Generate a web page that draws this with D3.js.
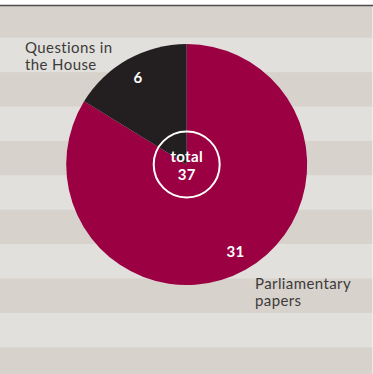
<!DOCTYPE html>
<html>
<head>
<meta charset="utf-8">
<script src="https://cdn.jsdelivr.net/npm/d3@7"></script>
<style>
  html, body { margin: 0; padding: 0; background: #fff; }
  svg { display: block; }
</style>
</head>
<body>
<div id="chart"></div>
<script>
/* data ------------------------------------------------------------------- */
var categories = ["Parliamentary papers", "Questions in the House"];
var labelLines = [["Parliamentary", "papers"], ["Questions in", "the House"]];
var values = [31, 6];
var sliceColors = ["#9b0042", "#231f20"];

/* dimensions ------------------------------------------------------------- */
var width = 373,
    height = 374,
    cx = 186.7,
    cy = 164.5,
    radius = 120.5;

var svg = d3.select("#chart")
  .append("svg")
    .attr("width", width)
    .attr("height", height);

// striped background
var stripeTop = 3.3, stripeH = 34.4;
for (var i = 0; stripeTop + i * stripeH < height; i++) {
  svg.append("rect")
    .attr("x", 0)
    .attr("y", stripeTop + i * stripeH)
    .attr("width", 372.5)
    .attr("height", stripeH + 0.5)
    .attr("fill", i % 2 === 0 ? "#d7d2cc" : "#e2e0dc");
}
// white strip above the top rule
svg.append("rect")
  .attr("x", 0).attr("y", 0)
  .attr("width", width).attr("height", 5)
  .attr("fill", "#ffffff");
svg.append("line")
  .attr("x1", 0).attr("x2", width)
  .attr("y1", 5.5).attr("y2", 5.5)
  .attr("stroke", "#4d4b4a")
  .attr("stroke-width", 1.5);

var g = svg.append("g")
  .attr("transform", "translate(" + cx + "," + cy + ")");

var color = d3.scaleOrdinal().domain(categories).range(sliceColors);

var pie = d3.pie().sort(null).value(function(d) { return d.value; });
var data_ready = pie(categories.map(function(c, i) { return {key: c, value: values[i]}; }));

var arcGenerator = d3.arc().innerRadius(0).outerRadius(radius);
var labelArc = d3.arc().innerRadius(100).outerRadius(100);

g.selectAll("path.slice")
  .data(data_ready)
  .enter()
  .append("path")
    .attr("class", "slice")
    .attr("d", arcGenerator)
    .attr("fill", function(d) { return color(d.data.key); });

// value labels inside slices
g.selectAll("text.val")
  .data(data_ready)
  .enter()
  .append("text")
    .attr("class", "val")
    .attr("transform", function(d) { return "translate(" + labelArc.centroid(d) + ")"; })
    .attr("dy", "0.36em")
    .attr("text-anchor", "middle")
    .style("font-family", "Lato, 'Noto Sans', sans-serif")
    .style("font-weight", "bold")
    .style("font-size", "15px")
    .style("letter-spacing", "0.3px")
    .attr("fill", "#ffffff")
    .text(function(d) { return d.data.value; });

// centre total
g.append("circle")
  .attr("r", 33)
  .attr("fill", "none")
  .attr("stroke", "#ffffff")
  .attr("stroke-width", 2);

var total = d3.sum(values);
g.append("text")
  .attr("y", -3)
  .attr("text-anchor", "middle")
  .style("font-family", "Lato, 'Noto Sans', sans-serif")
  .style("font-weight", "bold")
  .style("font-size", "15px")
  .style("letter-spacing", "0.3px")
  .attr("fill", "#ffffff")
  .text("total");
g.append("text")
  .attr("y", 15.5)
  .attr("text-anchor", "middle")
  .style("font-family", "Lato, 'Noto Sans', sans-serif")
  .style("font-weight", "bold")
  .style("font-size", "15px")
  .style("letter-spacing", "0.3px")
  .attr("fill", "#ffffff")
  .text(total);

// category labels outside the pie
var labelPos = [[255, 289], [25, 52.5]];
labelLines.forEach(function(lines, i) {
  var t = svg.append("text")
    .attr("x", labelPos[i][0])
    .attr("y", labelPos[i][1])
    .style("font-family", "Lato, 'Noto Sans', sans-serif")
    .style("font-size", "15px")
    .style("letter-spacing", "0.4px")
    .attr("fill", "#3d3b3a");
  lines.forEach(function(line, j) {
    t.append("tspan")
      .attr("x", labelPos[i][0])
      .attr("dy", j === 0 ? 0 : 17)
      .text(line);
  });
});
</script>
</body>
</html>
